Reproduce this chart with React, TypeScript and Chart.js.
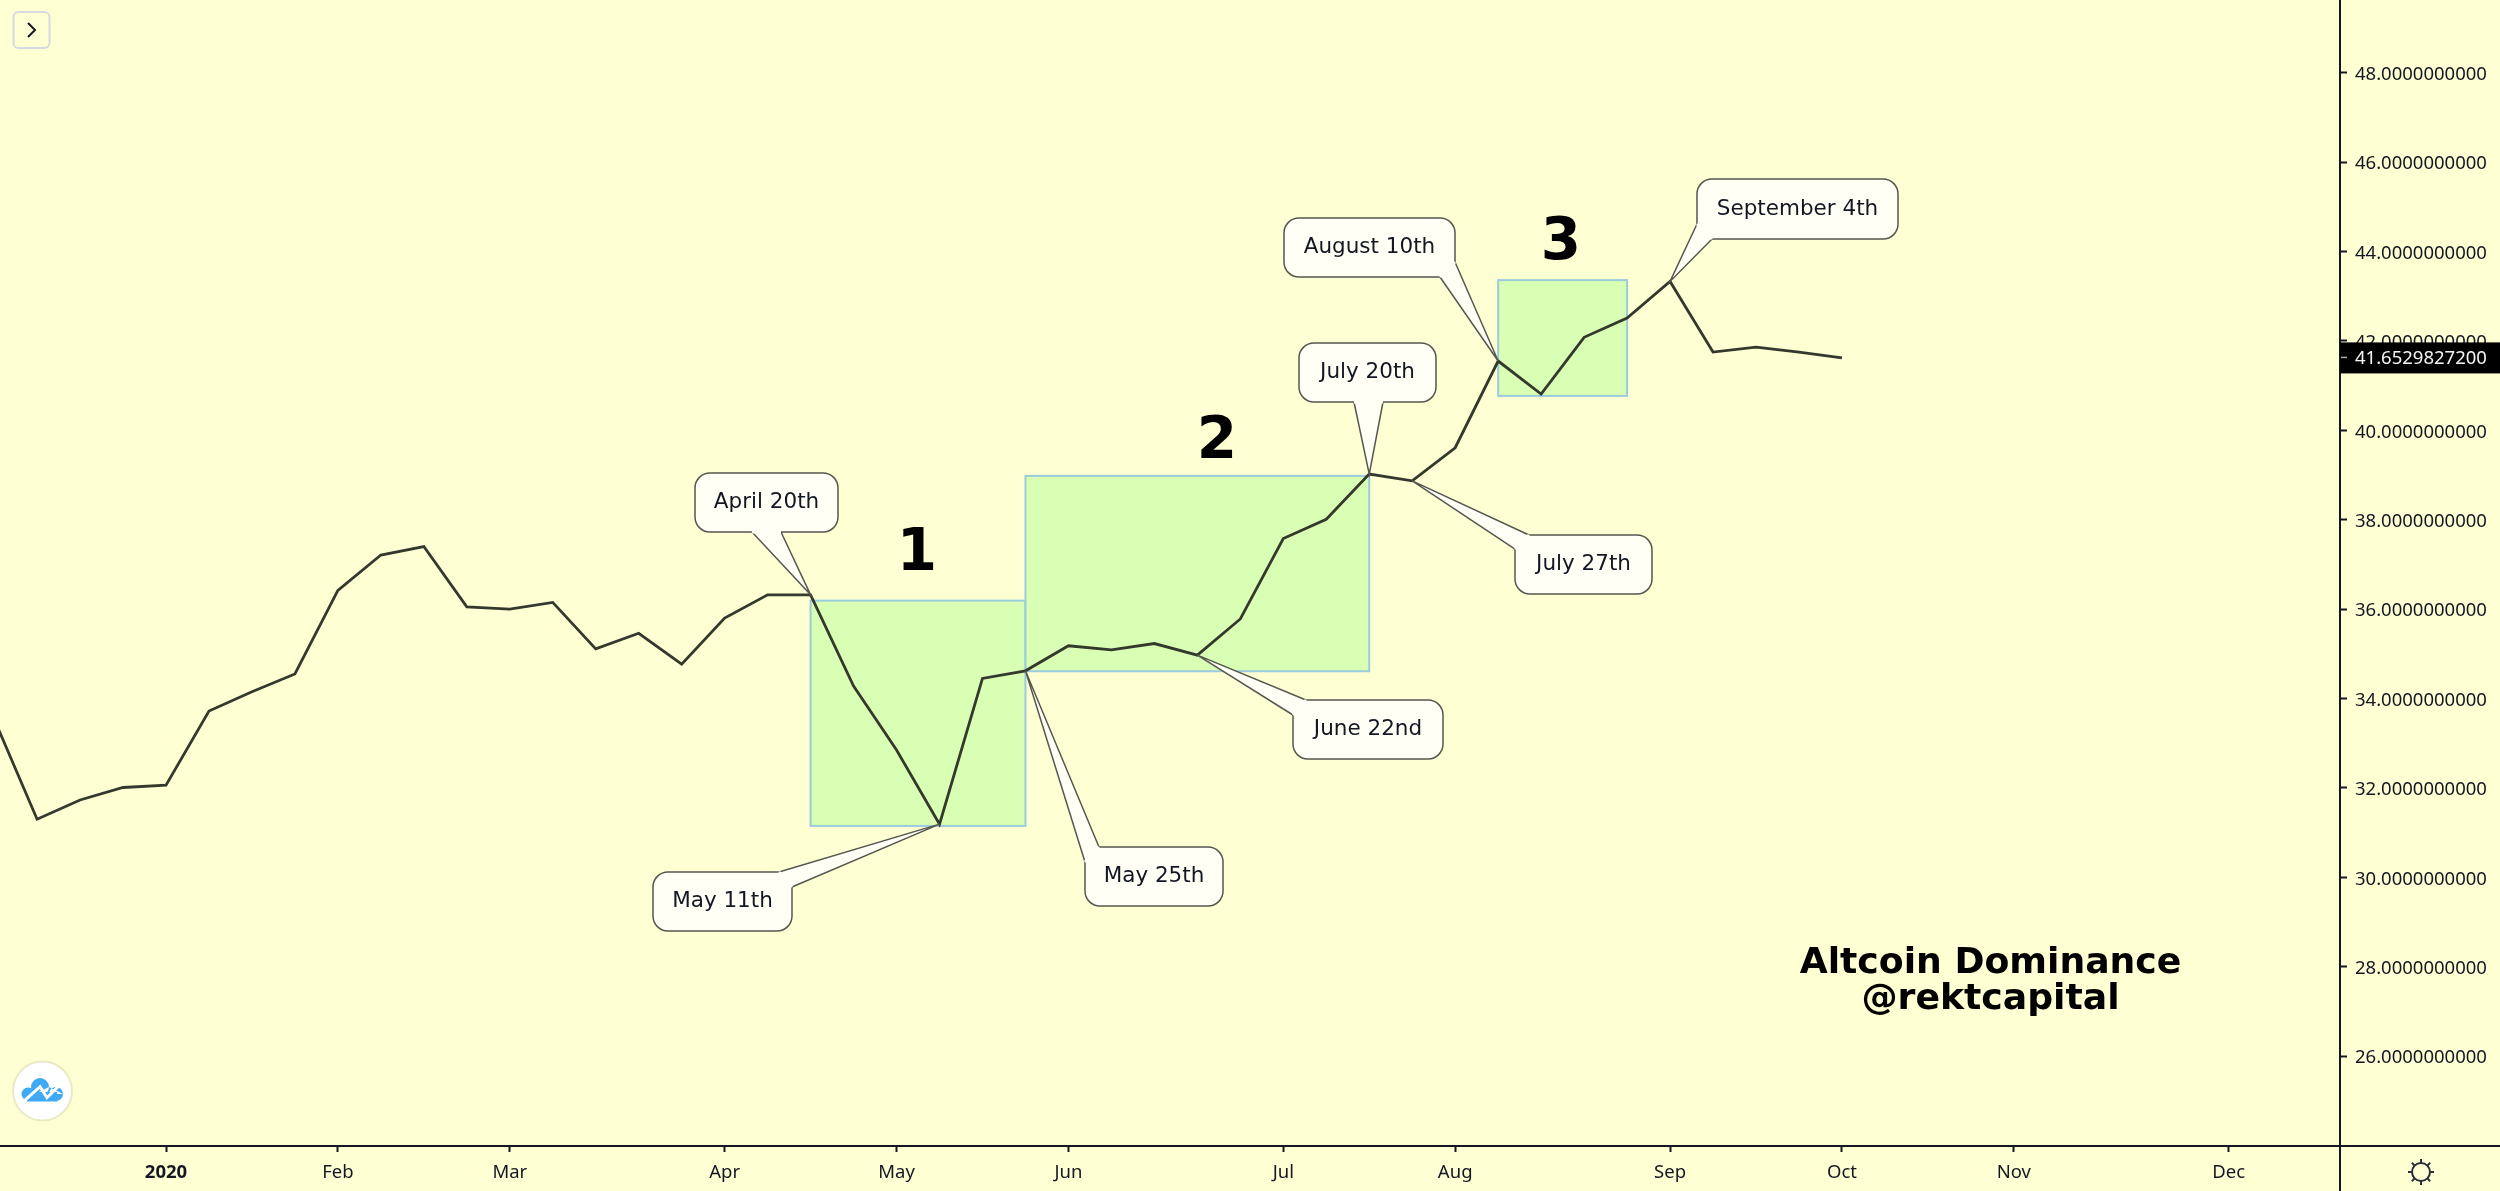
import React, { useEffect, useRef } from 'react';
import { Chart, registerables } from 'chart.js';

Chart.register(...registerables);

// weekly closes, first value is the week just off the left edge
const firstWeek = -4;
const dominance = [
  33.54, 31.3, 31.73, 32.01, 32.06, 33.72, 34.15, 34.55, 36.42, 37.21, 37.4, 36.05,
  36.0, 36.15, 35.11, 35.46, 34.77, 35.8, 36.32, 36.32, 34.28, 32.85, 31.19, 34.45,
  34.62, 35.18, 35.09, 35.23, 34.97, 35.78, 37.58, 38.01, 39.02, 38.87, 39.61, 41.55,
  40.81, 42.08, 42.51, 43.33, 41.75, 41.86, 41.75, 41.62,
];
const lastPrice = 41.65298272;

const monthWeeks = [0, 4, 8, 13, 17, 21, 26, 30, 35, 39, 43, 48];
const monthLabels = ['2020', 'Feb', 'Mar', 'Apr', 'May', 'Jun', 'Jul', 'Aug', 'Sep', 'Oct', 'Nov', 'Dec'];
const priceTicks = [26, 28, 30, 32, 34, 36, 38, 40, 42, 44, 46, 48];

// x from/to in weeks, y top/bottom in dominance %
const boxWeeks = [[15, 20], [20, 28], [31, 34]];
const boxRanges = [[36.19, 31.15], [38.98, 34.61], [43.36, 40.77]];
const boxLabels = ['1', '2', '3'];

const calloutTexts = ['April 20th', 'May 11th', 'May 25th', 'June 22nd', 'July 20th', 'July 27th', 'August 10th', 'September 4th'];
const calloutWeeks = [15, 18, 20, 24, 28, 29, 31, 35];

const FONT = '"DejaVu Sans", Verdana, sans-serif';
const AXIS_FONT = '"Noto Sans", sans-serif';
const BG = '#ffffd4';
const INK = '#131722';

// pixel layout of the drawing-tool shapes
const calloutBoxes = [
  { x: 695, y: 473, w: 143, h: 59, a: [752, 532], b: [781, 532] },
  { x: 653, y: 872, w: 139, h: 59, a: [779, 872], b: [792, 887] },
  { x: 1085, y: 847, w: 138, h: 59, a: [1085, 862], b: [1099, 847] },
  { x: 1293, y: 700, w: 150, h: 59, a: [1306, 700], b: [1293, 715] },
  { x: 1299, y: 343, w: 137, h: 59, a: [1354, 402], b: [1383, 402] },
  { x: 1515, y: 535, w: 137, h: 59, a: [1529, 535], b: [1515, 549] },
  { x: 1284, y: 218, w: 171, h: 59, a: [1440, 277], b: [1455, 262] },
  { x: 1697, y: 179, w: 201, h: 60, a: [1697, 224], b: [1712, 239] },
];
const boxLabelPos = [[917, 555], [1217, 443], [1561, 244]];

const zonePlugin = {
  id: 'zones',
  beforeDatasetsDraw(chart: any) {
    const { ctx, scales } = chart;
    ctx.save();
    boxWeeks.forEach((wk, i) => {
      const x0 = scales.x.getPixelForValue(wk[0]);
      const x1 = scales.x.getPixelForValue(wk[1]);
      const y0 = scales.y.getPixelForValue(boxRanges[i][0]);
      const y1 = scales.y.getPixelForValue(boxRanges[i][1]);
      ctx.fillStyle = '#d9ffb4';
      ctx.fillRect(x0, y0, x1 - x0, y1 - y0);
      ctx.strokeStyle = '#9ccbdc';
      ctx.lineWidth = 2;
      ctx.strokeRect(x0, y0, x1 - x0, y1 - y0);
    });
    ctx.restore();
  },
};

const overlayPlugin = {
  id: 'overlay',
  afterDraw(chart: any) {
    const { ctx, scales } = chart;
    ctx.save();

    // callouts
    calloutTexts.forEach((text, i) => {
      const c = calloutBoxes[i];
      const wk = calloutWeeks[i];
      const tipX = scales.x.getPixelForValue(wk);
      const tipY = scales.y.getPixelForValue(dominance[wk - firstWeek]);
      ctx.beginPath();
      ctx.roundRect(c.x, c.y, c.w, c.h, 15);
      ctx.fillStyle = '#fffff6';
      ctx.strokeStyle = '#55584f';
      ctx.lineWidth = 1.5;
      ctx.fill();
      ctx.stroke();
      ctx.beginPath();
      ctx.moveTo(c.a[0], c.a[1]);
      ctx.lineTo(tipX, tipY);
      ctx.lineTo(c.b[0], c.b[1]);
      ctx.fill();
      ctx.stroke();
      // hide the border segment under the tail
      ctx.beginPath();
      ctx.moveTo(c.a[0], c.a[1]);
      ctx.lineTo(c.b[0], c.b[1]);
      ctx.strokeStyle = '#fffff6';
      ctx.lineWidth = 3;
      ctx.stroke();
      ctx.fillStyle = INK;
      ctx.font = `21.5px ${FONT}`;
      ctx.textAlign = 'center';
      ctx.textBaseline = 'middle';
      ctx.fillText(text, c.x + c.w / 2, c.y + c.h / 2);
    });

    // zone numbers
    ctx.fillStyle = '#000';
    ctx.font = `bold 58px ${FONT}`;
    boxLabels.forEach((t, i) => ctx.fillText(t, boxLabelPos[i][0], boxLabelPos[i][1]));

    // watermark title
    ctx.font = `bold 36.2px ${FONT}`;
    ctx.textBaseline = 'alphabetic';
    ctx.fillText('Altcoin Dominance', 1990.5, 973);
    ctx.fillText('@rektcapital', 1990.5, 1009);
    ctx.textBaseline = 'middle';

    // axis frame runs out to the page edges
    ctx.strokeStyle = INK;
    ctx.lineWidth = 2;
    ctx.beginPath();
    ctx.moveTo(0, 1146);
    ctx.lineTo(2500, 1146);
    ctx.moveTo(2340, 0);
    ctx.lineTo(2340, 1191);
    ctx.stroke();

    // last price tag
    const py = scales.y.getPixelForValue(lastPrice) + 1;
    ctx.fillStyle = '#000';
    ctx.fillRect(2340, py - 15, 160, 31);
    ctx.strokeStyle = '#b0b0a0';
    ctx.lineWidth = 1.5;
    ctx.beginPath();
    ctx.moveTo(2341, py);
    ctx.lineTo(2347, py);
    ctx.stroke();
    ctx.fillStyle = '#f4f4f4';
    ctx.font = `18.5px ${AXIS_FONT}`;
    ctx.textAlign = 'left';
    ctx.fillText(lastPrice.toFixed(10), 2355, py + 1.5);

    // collapse button
    ctx.beginPath();
    ctx.roundRect(13.5, 12, 36, 36, 5);
    ctx.strokeStyle = '#d6d9e2';
    ctx.lineWidth = 2;
    ctx.stroke();
    ctx.beginPath();
    ctx.moveTo(28, 23);
    ctx.lineTo(35, 30);
    ctx.lineTo(28, 37);
    ctx.strokeStyle = INK;
    ctx.lineWidth = 2;
    ctx.stroke();

    // logo
    ctx.beginPath();
    ctx.arc(42.5, 1091, 29.5, 0, Math.PI * 2);
    ctx.fillStyle = '#fff';
    ctx.fill();
    ctx.strokeStyle = '#e9e9c4';
    ctx.lineWidth = 2;
    ctx.stroke();
    ctx.fillStyle = '#3fa9f5';
    ctx.beginPath();
    ctx.arc(40, 1087, 9, 0, Math.PI * 2);
    ctx.arc(28, 1094, 6.5, 0, Math.PI * 2);
    ctx.arc(56, 1094, 7, 0, Math.PI * 2);
    ctx.fill();
    ctx.fillRect(27, 1092, 30, 9.5);
    ctx.beginPath();
    ctx.moveTo(24.5, 1100.7);
    ctx.lineTo(40, 1086.7);
    ctx.lineTo(47, 1097.7);
    ctx.lineTo(58, 1086.7);
    ctx.strokeStyle = '#fff';
    ctx.lineWidth = 3;
    ctx.stroke();

    // settings sun
    ctx.strokeStyle = '#2a2e39';
    ctx.lineWidth = 2;
    ctx.beginPath();
    ctx.arc(2421, 1172, 9, 0, Math.PI * 2);
    ctx.stroke();
    for (let k = 0; k < 8; k++) {
      const ang = (k * Math.PI) / 4;
      ctx.beginPath();
      ctx.moveTo(2421 + Math.cos(ang) * 9, 1172 + Math.sin(ang) * 9);
      ctx.lineTo(2421 + Math.cos(ang) * 13, 1172 + Math.sin(ang) * 13);
      ctx.stroke();
    }
    ctx.restore();
  },
};

const App = () => {
  const chartRef = useRef<HTMLCanvasElement>(null);

  useEffect(() => {
    document.body.style.margin = '0';
    document.body.style.background = BG;
    if (!chartRef.current) return;
    const myChart = new Chart(chartRef.current, {
      type: 'line',
      data: {
        datasets: [
          {
            data: dominance.map((y, i) => ({ x: i + firstWeek, y })),
            borderColor: '#33392d',
            borderWidth: 2.8,
            pointRadius: 0,
            tension: 0,
          },
        ],
      },
      options: {
        animation: false,
        responsive: false,
        devicePixelRatio: 1,
        layout: { padding: 0 },
        plugins: { legend: { display: false }, tooltip: { enabled: false } },
        scales: {
          x: {
            type: 'linear',
            min: -3.863,
            max: 50.59,
            afterFit: (s: any) => {
              s.height = 45;
              s.paddingLeft = 0;
              s.paddingRight = 0;
            },
            afterBuildTicks: (s: any) => { s.ticks = monthWeeks.map((value) => ({ value })); },
            grid: { display: true, drawOnChartArea: false, drawTicks: true, tickLength: 6, tickColor: INK, tickWidth: 2 },
            border: { display: false },
            ticks: {
              autoSkip: false,
              maxRotation: 0,
              padding: 10,
              color: INK,
              font: (c: any) => ({
                family: AXIS_FONT,
                size: 18.5,
                weight: c.tick && c.tick.value === 0 ? 'bold' : 'normal',
              }),
              callback: (v: any) => monthLabels[monthWeeks.indexOf(v)],
            },
          },
          y: {
            type: 'linear',
            position: 'right',
            min: 23.99,
            max: 49.626,
            afterFit: (s: any) => {
              s.width = 160;
              s.paddingTop = 0;
              s.paddingBottom = 0;
            },
            afterBuildTicks: (s: any) => { s.ticks = priceTicks.map((value) => ({ value })); },
            grid: { display: true, drawOnChartArea: false, drawTicks: true, tickLength: 7, tickColor: INK, tickWidth: 2 },
            border: { display: false },
            ticks: {
              autoSkip: false,
              padding: 8,
              labelOffset: 2,
              color: INK,
              font: { family: AXIS_FONT, size: 18.5 },
              callback: (v: any) => Number(v).toFixed(10),
            },
          },
        },
      },
      plugins: [zonePlugin, overlayPlugin],
    } as any);

    return () => {
      myChart.destroy();
    };
  }, []);

  return (
    <div style={{ position: 'absolute', left: 0, top: 0, width: 2500, height: 1191, background: BG }}>
      <canvas ref={chartRef} width={2500} height={1191} style={{ display: 'block' }} />
    </div>
  );
};

export default App;
